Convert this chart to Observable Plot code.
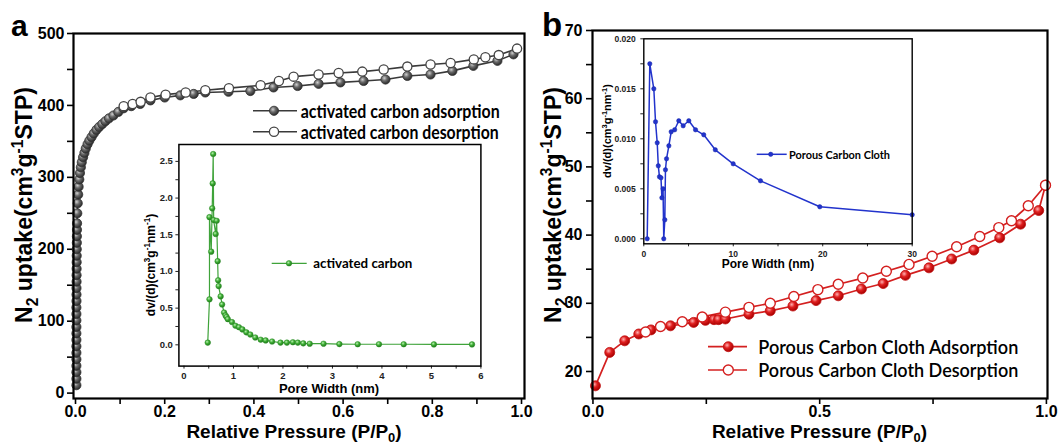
<!DOCTYPE html>
<html><head><meta charset="utf-8">
<script src="https://cdn.jsdelivr.net/npm/d3@7"></script>
<script src="https://cdn.jsdelivr.net/npm/@observablehq/plot@0.6"></script>
<style>
body{margin:0;background:#fff;}
#fig{position:relative;width:1060px;height:445px;background:#fff;overflow:hidden;}
</style></head><body>
<svg width="0" height="0" style="position:absolute">
<defs>
<radialGradient id="gGray" cx="38%" cy="35%" r="65%"><stop offset="0" stop-color="#d0d0d0"/><stop offset="0.45" stop-color="#6a6a6a"/><stop offset="1" stop-color="#2a2a2a"/></radialGradient>
<radialGradient id="gRed" cx="38%" cy="35%" r="65%"><stop offset="0" stop-color="#ffb0b0"/><stop offset="0.45" stop-color="#e02020"/><stop offset="1" stop-color="#a80000"/></radialGradient>
<radialGradient id="gGreen" cx="38%" cy="35%" r="65%"><stop offset="0" stop-color="#b8f0b0"/><stop offset="0.5" stop-color="#3fae35"/><stop offset="1" stop-color="#1f7a1a"/></radialGradient>
</defs></svg>
<div id="fig"></div>
<script>
// ---------- Panel a: activated carbon isotherm ----------
const acAdsP = [0.002,0.002,0.002,0.002,0.002,0.002,0.002,0.002,0.002,0.002,0.002,0.002,0.002,0.0022,0.0022,0.0022,0.0024,0.0024,0.0025,0.0026,0.0027,0.0028,0.003,0.0031,0.0033,0.0035,0.004,0.005,0.006,0.007,0.0085,0.010,0.012,0.014,0.017,0.020,0.023,0.027,0.031,0.036,0.041,0.047,0.053,0.060,0.067,0.075,0.085,0.096,0.108,0.125,0.145,0.168,0.200,0.235,0.265,0.291,0.343,0.392,0.444,0.498,0.545,0.594,0.646,0.695,0.744,0.796,0.845,0.892,0.946,0.982];
const acAdsV = [11,20,29,38,47,56,65,74,83,92,101,110,119,128,137,146,155,164,173,182,191,200,209,218,227,236,250,264,276,287,297,306,314,321,328,334,340,346,351,356,361,366,370,374,378,382,386,391,396,399,402,407,411,414,416,418,419,420,425,427,430,432,434,436,441,443,448,455,462,471];
const acDesP = [0.108,0.128,0.146,0.168,0.202,0.247,0.291,0.344,0.415,0.456,0.489,0.545,0.590,0.643,0.691,0.744,0.796,0.841,0.893,0.919,0.949,0.990];
const acDesV = [399,402,405,411,415,418,421,424,428,434,440,443,445,447,450,454,457,459,464,467,470,479];
// inset a: pore size distribution
const acPoreW  = [0.48,0.515,0.515,0.55,0.57,0.58,0.59,0.60,0.64,0.66,0.68,0.69,0.70,0.74,0.77,0.81,0.84,0.86,0.885,0.97,1.04,1.11,1.18,1.26,1.34,1.44,1.55,1.65,1.78,1.95,2.08,2.20,2.30,2.41,2.54,2.82,3.14,3.51,3.94,4.44,5.05,5.82];
const acPoreDV = [0.03,0.62,1.74,1.27,1.86,2.20,2.60,1.70,1.51,1.69,1.14,0.88,0.80,0.66,0.55,0.44,0.40,0.38,0.35,0.31,0.26,0.24,0.21,0.17,0.14,0.10,0.07,0.06,0.045,0.03,0.03,0.035,0.03,0.02,0.015,0.015,0.01,0.008,0.008,0.008,0.006,0.006];
// ---------- Panel b: porous carbon cloth isotherm ----------
const pccAdsP = [0.0055,0.037,0.070,0.101,0.128,0.171,0.222,0.248,0.267,0.277,0.292,0.344,0.391,0.441,0.492,0.541,0.592,0.640,0.689,0.741,0.791,0.840,0.897,0.943,0.983,0.998];
const pccAdsV = [17.9,22.8,24.5,25.5,26.1,26.7,27.2,27.5,27.6,27.6,27.7,28.4,28.9,29.6,30.4,31.1,32.1,32.9,34.1,35.2,36.5,37.8,39.6,41.6,43.6,47.3];
const pccDesP = [0.116,0.149,0.197,0.241,0.292,0.344,0.391,0.443,0.496,0.541,0.595,0.647,0.697,0.748,0.802,0.853,0.895,0.923,0.960,0.998];
const pccDesV = [25.8,26.6,27.3,28.0,28.7,29.4,30.0,31.0,32.0,32.8,33.7,34.7,35.7,36.9,38.3,39.8,41.1,42.1,44.3,47.3];
// inset b
const pccPoreW  = [0.38,0.67,1.12,1.31,1.50,1.62,1.75,1.92,2.02,2.15,2.23,2.35,2.42,2.54,2.80,3.06,3.45,3.91,4.40,5.03,5.78,6.70,7.99,9.99,13.04,19.67,30.0];
const pccPoreDV = [0.0000,0.0175,0.0150,0.0117,0.0096,0.0073,0.0062,0.0061,0.0041,0.0050,0.0000,0.0019,0.0069,0.0080,0.0093,0.0107,0.0109,0.0118,0.0113,0.0118,0.0109,0.0104,0.0089,0.0075,0.0058,0.0032,0.0024];
// ---------- tick values ----------
const aXTicks = [0,0.1,0.2,0.3,0.4,0.5,0.6,0.7,0.8,0.9,1.0];
const aYTicks = [0,50,100,150,200,250,300,350,400,450,500];
const bXTicks = [0,0.25,0.5,0.75,1.0];
const bYTicks = [20,25,30,35,40,45,50,55,60,65,70];
const iaXTicks = [0,0.5,1,1.5,2,2.5,3,3.5,4,4.5,5,5.5,6];
const iaYTicks = [0,0.25,0.5,0.75,1,1.25,1.5,1.75,2,2.25,2.5];
const ibXTicks = [0,5,10,15,20,25,30];
const ibYTicks = [0,0.0025,0.005,0.0075,0.01,0.0125,0.015,0.0175,0.02];

const zip = (xs, ys) => xs.map((x, i) => ({x, y: ys[i]}));
const acAds = zip(acAdsP, acAdsV), acDes = zip(acDesP, acDesV);
const pccAds = zip(pccAdsP, pccAdsV), pccDes = zip(pccDesP, pccDesV);
const acPore = zip(acPoreW, acPoreDV), pccPore = zip(pccPoreW, pccPoreDV);

const ARIAL = "'Liberation Sans', Arial, sans-serif";
const CAL = "Lato, 'Liberation Sans', sans-serif";
const fig = document.getElementById('fig');
function place(svg, left, top) {
  svg.style.position = 'absolute'; svg.style.left = left + 'px'; svg.style.top = top + 'px';
  svg.style.overflow = 'visible'; svg.style.background = 'transparent';
  fig.appendChild(svg); return svg;
}
function addText(svg, o) {
  const t = d3.select(svg).append('text')
    .attr('transform', `translate(${o.x},${o.y}) rotate(${o.rotate || 0})`)
    .attr('font-family', o.family || ARIAL).attr('font-weight', o.weight || 'bold')
    .attr('font-size', o.size).attr('fill', o.fill || '#000')
    .attr('text-anchor', o.anchor || 'middle');
  if (o.dy) t.attr('dy', o.dy);
  let cur = 0;
  const subK = o.subShift != null ? o.subShift : 0.28;
  for (const p of o.parts) {
    const part = typeof p === 'string' ? {t: p} : p;
    const shift = part.sub ? o.size * subK : part.sup ? -o.size * 0.38 : 0;
    const ts = t.append('tspan').text(part.t);
    if (shift !== cur) ts.attr('dy', shift - cur);
    if (part.sub || part.sup) ts.attr('font-size', o.size * 0.68);
    cur = shift;
  }
  if (o.length) t.attr('textLength', o.length).attr('lengthAdjust', 'spacingAndGlyphs');
  return t;
}
function legendEntry(svg, o) {
  const g = d3.select(svg);
  g.append('line').attr('x1', o.x1).attr('x2', o.x2).attr('y1', o.y).attr('y2', o.y)
    .attr('stroke', o.lineColor).attr('stroke-width', o.lw);
  g.append('circle').attr('cx', o.mx).attr('cy', o.y).attr('r', o.r)
    .attr('fill', o.fill).attr('stroke', o.stroke).attr('stroke-width', o.sw);
  addText(svg, {x: o.tx, y: o.y, parts: [o.text], size: o.size, family: o.family || CAL,
    weight: o.weight || 'bold', anchor: 'start', dy: '0.35em', length: o.length});
}

// ================= Panel a main =================
const pa = Plot.plot({
  width: 530, height: 445, marginLeft: 73, marginRight: 6, marginTop: 33, marginBottom: 47,
  x: {domain: [-0.0045, 1.0067]}, y: {domain: [-7.5, 500]},
  style: {fontFamily: ARIAL, fontWeight: "bold", fontSize: "16px", color: "#000", background: "transparent"},
  marks: [
    Plot.axisX(aXTicks, {tickSize: 6, tickPadding: 1, strokeWidth: 1.6, label: null,
      tickFormat: d => (Math.round(d * 10) % 2 === 0 ? d.toFixed(1) : "")}),
    Plot.axisY(aYTicks, {tickSize: 6, tickPadding: 3, strokeWidth: 1.6, label: null,
      tickFormat: d => (d % 100 === 0 ? String(d) : "")}),
    Plot.line(acAds, {x: "x", y: "y", stroke: "#3a3a3a", strokeWidth: 1.6}),
    Plot.line(acDes, {x: "x", y: "y", stroke: "#3a3a3a", strokeWidth: 1.6}),
    Plot.dot(acAds, {x: "x", y: "y", r: 4.6, fill: "url(#gGray)", stroke: "#333", strokeWidth: 0.8}),
    Plot.dot(acDes, {x: "x", y: "y", r: 4.6, fill: "white", stroke: "#444", strokeWidth: 1.3}),
    Plot.frame({stroke: "#000", strokeWidth: 2.2})
  ]
});
place(pa, 0, 0);
addText(pa, {x: 11, y: 35.5, parts: ["a"], size: 30, anchor: "start"});
addText(pa, {x: 294, y: 438, parts: ["Relative Pressure (P/P", {t: "0", sub: true}, ")"], size: 19, subShift: 0.2});
addText(pa, {x: 32, y: 205, rotate: -90, parts: ["N", {t: "2", sub: true}, " uptake(cm", {t: "3", sup: true}, "g", {t: "-1", sup: true}, "STP)"], size: 23});
legendEntry(pa, {x1: 253, x2: 297, y: 110.8, mx: 274, r: 4.6, fill: "url(#gGray)", stroke: "#333", sw: 0.8,
  lineColor: "#3a3a3a", lw: 1.6, tx: 300.7, text: "activated carbon adsorption", size: 19.5, length: 199});
legendEntry(pa, {x1: 253, x2: 297, y: 131.8, mx: 274, r: 4.6, fill: "white", stroke: "#444", sw: 1.3,
  lineColor: "#3a3a3a", lw: 1.6, tx: 300.7, text: "activated carbon desorption", size: 19.5, length: 198});

// ================= Panel b main =================
const pb = Plot.plot({
  width: 530, height: 445, marginLeft: 62, marginRight: 13, marginTop: 30, marginBottom: 47,
  x: {domain: [-0.001, 1.0024]}, y: {domain: [16.04, 70]},
  style: {fontFamily: ARIAL, fontWeight: "bold", fontSize: "16px", color: "#000", background: "transparent"},
  marks: [
    Plot.axisX(bXTicks, {tickSize: 6, tickPadding: 1, strokeWidth: 1.6, label: null,
      tickFormat: d => (Math.round(d * 100) % 50 === 0 ? d.toFixed(1) : "")}),
    Plot.axisY(bYTicks, {tickSize: 6, tickPadding: 4, strokeWidth: 1.6, label: null,
      tickFormat: d => (d % 10 === 0 ? String(d) : "")}),
    Plot.line(pccAds, {x: "x", y: "y", stroke: "#d42020", strokeWidth: 1.7}),
    Plot.line(pccDes, {x: "x", y: "y", stroke: "#d42020", strokeWidth: 1.7}),
    Plot.dot(pccAds, {x: "x", y: "y", r: 5, fill: "url(#gRed)", stroke: "#c01010", strokeWidth: 0.8}),
    Plot.dot(pccDes, {x: "x", y: "y", r: 5, fill: "white", stroke: "#d42020", strokeWidth: 1.4}),
    Plot.frame({stroke: "#000", strokeWidth: 2.2})
  ]
});
place(pb, 530, 0);
addText(pb, {x: 12, y: 35.5, parts: ["b"], size: 33, anchor: "start"});
addText(pb, {x: 289.5, y: 438, parts: ["Relative Pressure (P/P", {t: "0", sub: true}, ")"], size: 19, subShift: 0.2});
addText(pb, {x: 31, y: 205, rotate: -90, parts: ["N", {t: "2", sub: true}, " uptake(cm", {t: "3", sup: true}, "g", {t: "-1", sup: true}, "STP)"], size: 23});
legendEntry(pb, {x1: 178, x2: 217, y: 346.7, mx: 198.3, r: 5, fill: "url(#gRed)", stroke: "#c01010", sw: 0.8,
  lineColor: "#d42020", lw: 1.7, tx: 228.3, text: "Porous Carbon Cloth Adsorption", size: 20, weight: 600, length: 260});
legendEntry(pb, {x1: 178, x2: 217, y: 370, mx: 198.3, r: 5, fill: "white", stroke: "#d42020", sw: 1.4,
  lineColor: "#d42020", lw: 1.7, tx: 228.3, text: "Porous Carbon Cloth Desorption", size: 20, weight: 600, length: 260});

// ================= Inset a =================
const ia = Plot.plot({
  width: 360, height: 280, marginLeft: 48.4, marginRight: 9.6, marginTop: 24, marginBottom: 34.4,
  x: {domain: [-0.103, 6]}, y: {domain: [-0.29, 2.73]},
  style: {fontFamily: ARIAL, fontWeight: "bold", fontSize: "9.5px", color: "#222", background: "transparent"},
  marks: [
    Plot.axisX(iaXTicks, {tickSize: 3, tickPadding: 3, label: null,
      tickFormat: d => (Number.isInteger(d) ? String(d) : "")}),
    Plot.axisY(iaYTicks, {tickSize: 3, tickPadding: 3, label: null,
      tickFormat: d => (Math.round(d * 100) % 50 === 0 ? d.toFixed(1) : "")}),
    Plot.line(acPore, {x: "x", y: "y", stroke: "#3fa33a", strokeWidth: 1.2}),
    Plot.dot(acPore, {x: "x", y: "y", r: 2.8, fill: "url(#gGreen)", stroke: "#2f8f2a", strokeWidth: 0.5}),
    Plot.frame({stroke: "#000", strokeWidth: 1.5})
  ]
});
place(ia, 130, 120);
addText(ia, {x: 199, y: 273, parts: ["Pore Width (nm)"], size: 13});
addText(ia, {x: 25, y: 145, rotate: -90, parts: ["dv/(d)(cm", {t: "3", sup: true}, "g", {t: "-1", sup: true}, "nm", {t: "-1", sup: true}, ")"], size: 12});
legendEntry(ia, {x1: 141.7, x2: 176.7, y: 143.3, mx: 159, r: 2.8, fill: "url(#gGreen)", stroke: "#2f8f2a", sw: 0.5,
  lineColor: "#3fa33a", lw: 1.2, tx: 183.3, text: "activated carbon", size: 13.5, length: 99});

// ================= Inset b =================
const ib = Plot.plot({
  width: 340, height: 260, marginLeft: 53.3, marginRight: 18.3, marginTop: 18.3, marginBottom: 36.7,
  x: {domain: [0, 30]}, y: {domain: [-0.0005, 0.02]},
  style: {fontFamily: ARIAL, fontWeight: "bold", fontSize: "8.5px", color: "#222", background: "transparent"},
  marks: [
    Plot.axisX(ibXTicks, {tickSize: 3, tickPadding: 4, label: null,
      tickFormat: d => (d % 10 === 0 ? String(d) : "")}),
    Plot.axisY(ibYTicks, {tickSize: 3, tickPadding: 5, label: null,
      tickFormat: d => (Math.round(d * 10000) % 50 === 0 ? d.toFixed(3) : "")}),
    Plot.line(pccPore, {x: "x", y: "y", stroke: "#2233cc", strokeWidth: 1.5}),
    Plot.dot(pccPore, {x: "x", y: "y", r: 2.2, fill: "#2233cc", stroke: "#1a2aa8", strokeWidth: 0.5}),
    Plot.frame({stroke: "#000", strokeWidth: 1.4})
  ]
});
place(ib, 590, 20);
addText(ib, {x: 178, y: 248, parts: ["Pore Width (nm)"], size: 12});
addText(ib, {x: 21, y: 111, rotate: -90, parts: ["dv/(d)(cm", {t: "3", sup: true}, "g", {t: "-1", sup: true}, "nm", {t: "-1", sup: true}, ")"], size: 11});
legendEntry(ib, {x1: 166.7, x2: 196.7, y: 134.3, mx: 180.7, r: 2.2, fill: "#2233cc", stroke: "#1a2aa8", sw: 0.5,
  lineColor: "#2233cc", lw: 1.5, tx: 199, text: "Porous Carbon Cloth", size: 12, length: 101});
</script>
</body></html>
